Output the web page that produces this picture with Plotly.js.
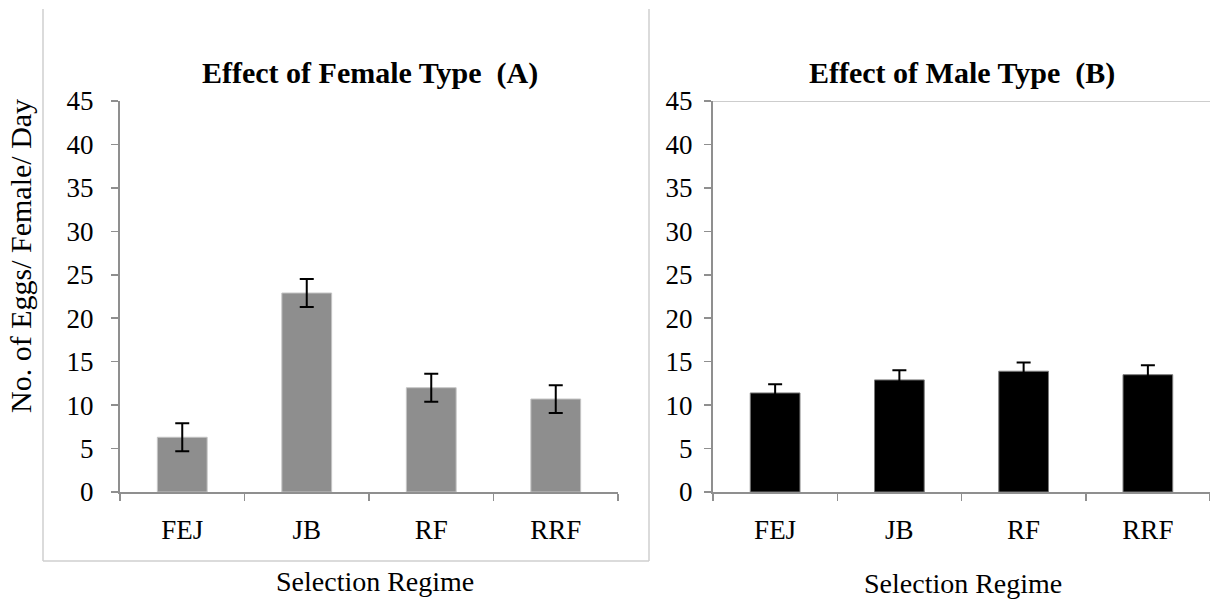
<!DOCTYPE html>
<html>
<head>
<meta charset="utf-8">
<script src="https://cdn.plot.ly/plotly-3.0.1.min.js"></script>
<style>
  html, body { margin: 0; padding: 0; background: #fff; }
  #chart { width: 1210px; height: 607px; }
</style>
</head>
<body>
<div id="chart"></div>
<script>
// Egg production per female per day by selection regime
const categories = ['FEJ', 'JB', 'RF', 'RRF'];
const femaleMeans = [6.3, 22.9, 12.0, 10.7];
const femaleErr = [1.6, 1.6, 1.6, 1.6];
const maleMeans = [11.4, 12.9, 13.9, 13.5];
const maleErr = [1.0, 1.1, 1.0, 1.1];
const yTicks = [0, 5, 10, 15, 20, 25, 30, 35, 40, 45];

const FONT = '"Liberation Serif", "Times New Roman", serif';
const W = 1210, H = 607;
const px = v => v / W;
const py = v => 1 - v / H;

const traces = [
  {
    type: 'bar', x: categories, y: femaleMeans, xaxis: 'x', yaxis: 'y',
    width: 0.4,
    marker: { color: '#8e8e8e', line: { color: '#c4c4c4', width: 1 } },
    error_y: { type: 'data', array: femaleErr, visible: true, color: '#000', thickness: 2, width: 7 },
    hoverinfo: 'x+y'
  },
  {
    type: 'bar', x: categories, y: maleMeans, xaxis: 'x2', yaxis: 'y2',
    width: 0.4,
    marker: { color: '#000', line: { color: '#7a7a7a', width: 1 } },
    error_y: { type: 'data', array: maleErr, visible: true, color: '#000', thickness: 2, width: 7 },
    hoverinfo: 'x+y'
  }
];

const yDomain = [py(492), py(101)];
const axisLine = '#8f8f8f';

function xAxis(domain, anchor) {
  return {
    domain: domain, anchor: anchor, type: 'category',
    showline: true, linecolor: axisLine, linewidth: 2,
    ticks: 'outside', tickson: 'boundaries', ticklen: 7, tickwidth: 1.5, tickcolor: axisLine,
    showgrid: false, zeroline: false,
    tickfont: { family: FONT, size: 27, color: '#000' },
    ticklabelstandoff: 13
  };
}
function yAxis(anchor, standoff) {
  return {
    domain: yDomain, anchor: anchor, range: [0, 45],
    tickvals: yTicks, ticktext: yTicks.map(String),
    showline: true, linecolor: axisLine, linewidth: 2,
    ticks: 'outside', ticklen: 7, tickwidth: 1.5, tickcolor: axisLine,
    showgrid: false, zeroline: false,
    tickfont: { family: FONT, size: 27, color: '#000' },
    ticklabelstandoff: standoff
  };
}

const layout = {
  width: W, height: H,
  margin: { l: 0, r: 0, t: 0, b: 0 },
  paper_bgcolor: '#fff', plot_bgcolor: 'rgba(0,0,0,0)',
  showlegend: false,
  bargap: 0.6,
  font: { family: FONT, color: '#000' },
  xaxis: xAxis([px(120), px(618)], 'y'),
  yaxis: yAxis('x', 12),
  xaxis2: xAxis([px(713), 1], 'y2'),
  yaxis2: yAxis('x2', 6),
  shapes: [
    // frame around the first panel (left, right, bottom)
    { type: 'line', xref: 'paper', yref: 'paper', x0: px(43), x1: px(43), y0: py(9), y1: py(561),
      line: { color: '#cfcfcf', width: 1.5 } },
    { type: 'line', xref: 'paper', yref: 'paper', x0: px(649), x1: px(649), y0: py(9), y1: py(561),
      line: { color: '#cfcfcf', width: 1.5 } },
    { type: 'line', xref: 'paper', yref: 'paper', x0: px(43), x1: px(649), y0: py(561), y1: py(561),
      line: { color: '#cfcfcf', width: 1.5 } },
    // upper edge of the second plot area
    { type: 'line', xref: 'x2 domain', yref: 'y2', x0: 0, x1: 1, y0: 45, y1: 45,
      line: { color: '#bdbdbd', width: 1.5 } }
  ],
  annotations: [
    { text: '<b>Effect of Female Type  (A)</b>', xref: 'paper', yref: 'paper',
      x: px(370), y: py(73), showarrow: false, xanchor: 'center', yanchor: 'middle',
      font: { family: FONT, size: 30, color: '#000' } },
    { text: '<b>Effect of Male Type  (B)</b>', xref: 'paper', yref: 'paper',
      x: px(962), y: py(73), showarrow: false, xanchor: 'center', yanchor: 'middle',
      font: { family: FONT, size: 30, color: '#000' } },
    { text: 'No. of Eggs/ Female/ Day', xref: 'paper', yref: 'paper',
      x: px(20), y: py(256), textangle: -90, showarrow: false, xanchor: 'center', yanchor: 'middle',
      font: { family: FONT, size: 30, color: '#000' } },
    { text: 'Selection Regime', xref: 'paper', yref: 'paper',
      x: px(375), y: py(581), showarrow: false, xanchor: 'center', yanchor: 'middle',
      font: { family: FONT, size: 28, color: '#000' } },
    { text: 'Selection Regime', xref: 'paper', yref: 'paper',
      x: px(963), y: py(583), showarrow: false, xanchor: 'center', yanchor: 'middle',
      font: { family: FONT, size: 28, color: '#000' } }
  ]
};

Plotly.newPlot('chart', traces, layout, { displayModeBar: false, staticPlot: true });
</script>
</body>
</html>
